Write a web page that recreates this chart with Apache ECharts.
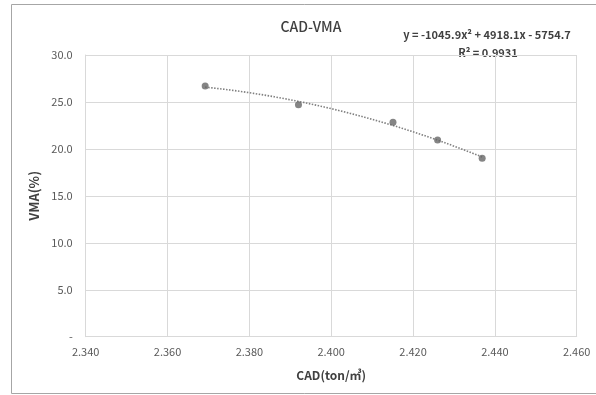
<!DOCTYPE html>
<html>
<head>
<meta charset="utf-8">
<script src="https://cdn.jsdelivr.net/npm/echarts@6/dist/echarts.min.js"></script>
<style>
html, body { margin: 0; padding: 0; background: #fff; }
#chart { width: 596px; height: 395px; }
</style>
</head>
<body>
<div id="chart"></div>
<script>
// data
var cad = [2.3692, 2.3920, 2.4151, 2.4260, 2.4369];
var vma = [26.7, 24.7, 22.85, 20.95, 19.0];
var xTicks = ['2.340', '2.360', '2.380', '2.400', '2.420', '2.440', '2.460'];
var yTicks = ['-', '5.0', '10.0', '15.0', '20.0', '25.0', '30.0'];
var eqText = 'y = -1045.9x\u00b2 + 4918.1x - 5754.7';
var r2Text = 'R\u00b2 = 0.9931';

var font = '"Noto Sans CJK KR", "Noto Sans", sans-serif';

// quadratic least squares trendline (like Excel's polynomial trendline)
function polyFit(xs, ys) {
	var n = xs.length, x0 = xs[0];
	var s = [0, 0, 0, 0, 0], t = [0, 0, 0];
	for (var i = 0; i < n; i++) {
		var u = xs[i] - x0;
		for (var k = 0; k < 5; k++) s[k] += Math.pow(u, k);
		for (var k = 0; k < 3; k++) t[k] += ys[i] * Math.pow(u, k);
	}
	var m = [[s[0], s[1], s[2], t[0]], [s[1], s[2], s[3], t[1]], [s[2], s[3], s[4], t[2]]];
	for (var c = 0; c < 3; c++) {
		for (var r = c + 1; r < 3; r++) {
			var f = m[r][c] / m[c][c];
			for (var k = c; k < 4; k++) m[r][k] -= f * m[c][k];
		}
	}
	var b = [0, 0, 0];
	for (var r = 2; r >= 0; r--) {
		var v = m[r][3];
		for (var k = r + 1; k < 3; k++) v -= m[r][k] * b[k];
		b[r] = v / m[r][r];
	}
	return function(x) { var u = x - x0; return b[0] + b[1] * u + b[2] * u * u; };
}

var fit = polyFit(cad, vma);
var trend = [];
var lo = cad[0], hi = cad[cad.length - 1];
for (var i = 0; i <= 40; i++) {
	var x = lo + (hi - lo) * i / 40;
	trend.push([x, fit(x)]);
}

var chart = echarts.init(document.getElementById('chart'));

option = {
	animation: false,
	backgroundColor: '#fff',
	title: {
		text: 'CAD-VMA',
		left: 306,
		top: 15,
		textAlign: 'center',
		textStyle: { fontFamily: font, fontSize: 14, fontWeight: 500, color: '#404040' }
	},
	grid: { left: 85.7, right: 19.3, top: 55, bottom: 58.3 },
	xAxis: {
		type: 'value',
		min: 2.34,
		max: 2.46,
		interval: 0.02,
		name: 'CAD(ton/\u33a5)',
		nameLocation: 'middle',
		nameGap: 33,
		nameTextStyle: { fontFamily: font, fontSize: 12, fontWeight: 'bold', color: '#404040' },
		axisLine: { show: true, lineStyle: { color: '#d9d9d9' } },
		axisTick: { show: false },
		splitLine: { show: true, lineStyle: { color: '#d9d9d9' } },
		axisLabel: {
			margin: 10,
			fontFamily: font, fontSize: 11, color: '#595959',
			formatter: function(v) { return xTicks[Math.round((v - 2.34) / 0.02)]; }
		}
	},
	yAxis: {
		type: 'value',
		min: 0,
		max: 30,
		interval: 5,
		name: 'VMA(%)',
		nameLocation: 'middle',
		nameGap: 43,
		nameTextStyle: { fontFamily: font, fontSize: 13, fontWeight: 'bold', color: '#404040' },
		axisLine: { show: true, lineStyle: { color: '#d9d9d9' } },
		axisTick: { show: false },
		splitLine: { show: true, lineStyle: { color: '#d9d9d9' } },
		axisLabel: {
			margin: 13,
			fontFamily: font, fontSize: 11, color: '#595959',
			formatter: function(v) { return yTicks[Math.round(v / 5)]; }
		}
	},
	series: [{
		name: 'trend',
		type: 'line',
		data: trend,
		showSymbol: false,
		smooth: false,
		lineStyle: { color: '#808080', width: 1.6, type: [1.5, 1.5] },
		z: 2
	}, {
		name: 'VMA',
		type: 'scatter',
		data: cad.map(function(x, i) { return [x, vma[i]]; }),
		symbolSize: 7,
		itemStyle: { color: '#676767' },
		z: 3
	}],
	graphic: [{
		type: 'rect',
		shape: { x: 11.5, y: 4.5, width: 600, height: 389 },
		style: { fill: null, stroke: '#a6a6a6', lineWidth: 1 },
		silent: true
	}, {
		type: 'text',
		x: 487, y: 35,
		style: {
			text: eqText, textAlign: 'center', textVerticalAlign: 'middle',
			font: 'bold 11px ' + font, fill: '#404040'
		}
	}, {
		type: 'text',
		x: 488, y: 53,
		style: {
			text: r2Text, textAlign: 'center', textVerticalAlign: 'middle',
			font: 'bold 11px ' + font, fill: '#404040'
		}
	}]
};

chart.setOption(option);
</script>
</body>
</html>
